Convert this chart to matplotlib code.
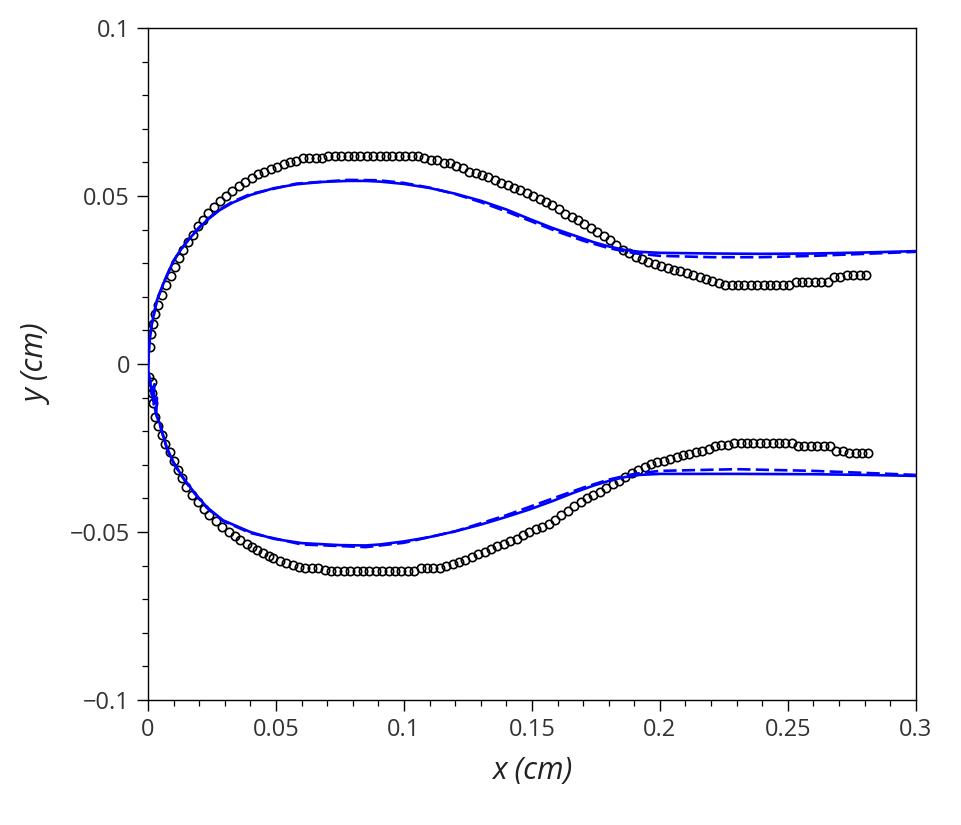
import matplotlib
matplotlib.use("Agg")
import matplotlib.pyplot as plt
from matplotlib.ticker import MultipleLocator, FuncFormatter

exp_up_x = [0.0008, 0.0012, 0.0020, 0.0028, 0.0040, 0.0055, 0.0072, 0.0088, 0.0104, 0.0120,
            0.0138, 0.0155, 0.0175, 0.0195, 0.0215, 0.0235, 0.0258, 0.0282, 0.0305, 0.0330,
            0.0355, 0.0380, 0.0405, 0.0430, 0.0455, 0.0480, 0.0505, 0.0530, 0.0555, 0.0580,
            0.0605, 0.0630, 0.0655, 0.0680, 0.0705, 0.0730, 0.0755, 0.0780, 0.0805, 0.0830,
            0.0855, 0.0880, 0.0905, 0.0930, 0.0955, 0.0980, 0.1005, 0.1030, 0.1055, 0.1080,
            0.1105, 0.1130, 0.1155, 0.1180, 0.1205, 0.1230, 0.1255, 0.1280, 0.1305, 0.1330,
            0.1355, 0.1380, 0.1405, 0.1430, 0.1455, 0.1480, 0.1505, 0.1530, 0.1555, 0.1580,
            0.1605, 0.1630, 0.1655, 0.1680, 0.1705, 0.1730, 0.1755, 0.1780, 0.1805, 0.1830,
            0.1855, 0.1880, 0.1905, 0.1930, 0.1955, 0.1980, 0.2005, 0.2030, 0.2055, 0.2080,
            0.2105, 0.2130, 0.2155, 0.2180, 0.2205, 0.2230, 0.2255, 0.2280, 0.2305, 0.2330,
            0.2355, 0.2380, 0.2405, 0.2430, 0.2455, 0.2480, 0.2505, 0.2530, 0.2555, 0.2580,
            0.2605, 0.2630, 0.2655, 0.2680, 0.2705, 0.2730, 0.2755, 0.2780, 0.2805]
exp_up_y = [0.0050, 0.0090, 0.0120, 0.0150, 0.0176, 0.0205, 0.0235, 0.0262, 0.0290, 0.0315,
            0.0340, 0.0362, 0.0385, 0.0410, 0.0430, 0.0450, 0.0468, 0.0485, 0.0500, 0.0515,
            0.0530, 0.0543, 0.0555, 0.0565, 0.0573, 0.0580, 0.0587, 0.0595, 0.0600, 0.0605,
            0.0613, 0.0613, 0.0613, 0.0613, 0.0620, 0.0620, 0.0620, 0.0620, 0.0620, 0.0620,
            0.0620, 0.0620, 0.0620, 0.0620, 0.0620, 0.0620, 0.0620, 0.0620, 0.0620, 0.0613,
            0.0607, 0.0607, 0.0598, 0.0598, 0.0590, 0.0583, 0.0572, 0.0568, 0.0562, 0.0557,
            0.0548, 0.0540, 0.0532, 0.0525, 0.0518, 0.0510, 0.0500, 0.0492, 0.0483, 0.0472,
            0.0460, 0.0448, 0.0438, 0.0430, 0.0418, 0.0405, 0.0393, 0.0380, 0.0368, 0.0354,
            0.0340, 0.0330, 0.0320, 0.0312, 0.0304, 0.0298, 0.0292, 0.0286, 0.0280, 0.0276,
            0.0272, 0.0266, 0.0260, 0.0254, 0.0248, 0.0242, 0.0235, 0.0235, 0.0235, 0.0235,
            0.0235, 0.0235, 0.0235, 0.0235, 0.0235, 0.0235, 0.0235, 0.0245, 0.0245, 0.0245,
            0.0245, 0.0245, 0.0245, 0.0260, 0.0260, 0.0266, 0.0266, 0.0266, 0.0266]

# experimental contour, lower branch
exp_lo_x = [0.0005, 0.0015, 0.0015, 0.0018, 0.0027, 0.0040, 0.0055, 0.0068, 0.0085, 0.0100,
            0.0117, 0.0133, 0.0150, 0.0172, 0.0196, 0.0218, 0.0240, 0.0265, 0.0290, 0.0315,
            0.0338, 0.0360, 0.0385, 0.0405, 0.0426, 0.0450, 0.0472, 0.0490, 0.0515, 0.0540,
            0.0565, 0.0590, 0.0615, 0.0640, 0.0665, 0.0690, 0.0715, 0.0740, 0.0765, 0.0790,
            0.0815, 0.0840, 0.0865, 0.0890, 0.0915, 0.0940, 0.0965, 0.0990, 0.1015, 0.1040,
            0.1065, 0.1090, 0.1115, 0.1140, 0.1165, 0.1190, 0.1215, 0.1240, 0.1265, 0.1290,
            0.1315, 0.1340, 0.1365, 0.1390, 0.1415, 0.1440, 0.1465, 0.1490, 0.1515, 0.1540,
            0.1565, 0.1590, 0.1615, 0.1640, 0.1665, 0.1690, 0.1715, 0.1740, 0.1765, 0.1790,
            0.1815, 0.1840, 0.1865, 0.1890, 0.1915, 0.1940, 0.1965, 0.1990, 0.2015, 0.2040,
            0.2065, 0.2090, 0.2115, 0.2140, 0.2165, 0.2190, 0.2215, 0.2240, 0.2265, 0.2290,
            0.2315, 0.2340, 0.2365, 0.2390, 0.2415, 0.2440, 0.2465, 0.2490, 0.2515, 0.2540,
            0.2565, 0.2590, 0.2615, 0.2640, 0.2665, 0.2690, 0.2715, 0.2740, 0.2765, 0.2790,
            0.2815]
exp_lo_y = [-0.0040, -0.0054, -0.0085, -0.0116, -0.0158, -0.0185, -0.0212, -0.0238, -0.0262, -0.0290,
            -0.0315, -0.0340, -0.0366, -0.0390, -0.0410, -0.0430, -0.0450, -0.0468, -0.0485, -0.0500,
            -0.0513, -0.0524, -0.0535, -0.0545, -0.0554, -0.0563, -0.0570, -0.0578, -0.0585, -0.0593,
            -0.0598, -0.0604, -0.0608, -0.0608, -0.0608, -0.0612, -0.0616, -0.0616, -0.0616, -0.0616,
            -0.0616, -0.0616, -0.0616, -0.0616, -0.0616, -0.0616, -0.0616, -0.0616, -0.0616, -0.0616,
            -0.0608, -0.0608, -0.0608, -0.0608, -0.0600, -0.0595, -0.0590, -0.0583, -0.0575, -0.0565,
            -0.0558, -0.0550, -0.0543, -0.0536, -0.0528, -0.0520, -0.0510, -0.0500, -0.0492, -0.0484,
            -0.0475, -0.0465, -0.0450, -0.0437, -0.0424, -0.0412, -0.0400, -0.0390, -0.0380, -0.0370,
            -0.0358, -0.0347, -0.0336, -0.0325, -0.0315, -0.0306, -0.0298, -0.0292, -0.0288, -0.0284,
            -0.0278, -0.0272, -0.0267, -0.0262, -0.0258, -0.0254, -0.0244, -0.0241, -0.0241, -0.0235,
            -0.0235, -0.0235, -0.0235, -0.0235, -0.0235, -0.0235, -0.0235, -0.0235, -0.0235, -0.0244,
            -0.0244, -0.0244, -0.0244, -0.0244, -0.0244, -0.0259, -0.0259, -0.0266, -0.0266, -0.0266,
            -0.0266]

# simulation, solid line
sim_up_x = [0.0000, 0.0002, 0.0005, 0.0015, 0.0035, 0.0066, 0.0098, 0.0130, 0.0164, 0.0200,
            0.0230, 0.0280, 0.0330, 0.0400, 0.0490, 0.0580, 0.0680, 0.0780, 0.0850, 0.0906,
            0.1000, 0.1100, 0.1200, 0.1300, 0.1400, 0.1490, 0.1580, 0.1660, 0.1740, 0.1800,
            0.1860, 0.1920, 0.2000, 0.2200, 0.2400, 0.2600, 0.2800, 0.3000]
sim_up_y = [-0.0020, 0.0020, 0.0060, 0.0120, 0.0190, 0.0250, 0.0305, 0.0342, 0.0375, 0.0405,
            0.0428, 0.0458, 0.0480, 0.0503, 0.0523, 0.0535, 0.0542, 0.0545, 0.0545, 0.0543,
            0.0536, 0.0524, 0.0507, 0.0486, 0.0460, 0.0432, 0.0405, 0.0384, 0.0363, 0.0350,
            0.0340, 0.0334, 0.0331, 0.0329, 0.0328, 0.0329, 0.0332, 0.0336]
sim_lo_x = [0.0000, 0.0008, 0.0015, 0.0025, 0.0022, 0.0035, 0.0032, 0.0045, 0.0060, 0.0074,
            0.0098, 0.0130, 0.0164, 0.0200, 0.0230, 0.0293, 0.0400, 0.0490, 0.0600, 0.0750,
            0.0850, 0.0906, 0.1000, 0.1100, 0.1200, 0.1300, 0.1400, 0.1490, 0.1580, 0.1660,
            0.1740, 0.1800, 0.1860, 0.1920, 0.2000, 0.2300, 0.2600, 0.2800, 0.3000]
sim_lo_y = [-0.0020, -0.0050, -0.0090, -0.0060, -0.0120, -0.0100, -0.0150, -0.0175, -0.0215, -0.0250,
            -0.0290, -0.0330, -0.0366, -0.0400, -0.0426, -0.0465, -0.0500, -0.0520, -0.0533, -0.0539,
            -0.0540, -0.0537, -0.0528, -0.0515, -0.0498, -0.0478, -0.0455, -0.0433, -0.0408, -0.0384,
            -0.0362, -0.0348, -0.0337, -0.0330, -0.0327, -0.0327, -0.0328, -0.0330, -0.0333]

# simulation, dashed line
sim2_up_x = [0.0000, 0.0002, 0.0005, 0.0015, 0.0035, 0.0066, 0.0098, 0.0130, 0.0164, 0.0200,
             0.0230, 0.0280, 0.0330, 0.0400, 0.0580, 0.0780, 0.0900, 0.1000, 0.1100, 0.1200,
             0.1300, 0.1400, 0.1500, 0.1600, 0.1700, 0.1800, 0.1900, 0.2000, 0.2200, 0.2400,
             0.2600, 0.2800, 0.3000]
sim2_up_y = [-0.0020, 0.0020, 0.0060, 0.0120, 0.0190, 0.0250, 0.0305, 0.0342, 0.0376, 0.0407,
             0.0430, 0.0460, 0.0483, 0.0506, 0.0537, 0.0548, 0.0547, 0.0539, 0.0525, 0.0506,
             0.0482, 0.0454, 0.0424, 0.0394, 0.0367, 0.0345, 0.0330, 0.0322, 0.0318, 0.0318,
             0.0322, 0.0328, 0.0334]
sim2_lo_x = [0.0000, 0.0008, 0.0015, 0.0032, 0.0045, 0.0060, 0.0074, 0.0098, 0.0130, 0.0164,
             0.0200, 0.0230, 0.0293, 0.0400, 0.0600, 0.0850, 0.1000, 0.1200, 0.1400, 0.1600,
             0.1700, 0.1800, 0.1900, 0.2000, 0.2300, 0.2600, 0.2800, 0.3000]
sim2_lo_y = [-0.0020, -0.0050, -0.0090, -0.0150, -0.0176, -0.0216, -0.0252, -0.0292, -0.0332, -0.0368,
             -0.0402, -0.0428, -0.0467, -0.0503, -0.0537, -0.0545, -0.0532, -0.0498, -0.0450, -0.0395,
             -0.0368, -0.0344, -0.0327, -0.0318, -0.0313, -0.0318, -0.0324, -0.0330]

plt.rcParams['font.family'] = ['Open Sans', 'DejaVu Sans']

fig = plt.figure(figsize=(9.61, 8.25), dpi=100)
ax = fig.add_axes([0.154, 0.1515, 0.799, 0.8145])

blue = '#0000ff'
ax.plot(sim_up_x, sim_up_y, color=blue, lw=1.9, zorder=3)
ax.plot(sim_lo_x, sim_lo_y, color=blue, lw=1.9, zorder=3)
ax.plot(sim2_up_x, sim2_up_y, color=blue, lw=1.9, dashes=(5, 2), zorder=3)
ax.plot(sim2_lo_x, sim2_lo_y, color=blue, lw=1.9, dashes=(5, 2), zorder=3)

for xs, ys in [(exp_up_x, exp_up_y), (exp_lo_x, exp_lo_y)]:
    ax.plot(xs, ys, ls='none', marker='o', ms=6, mfc='none', mec='black', mew=1.2, zorder=2)

ax.set_xlim(0, 0.3)
ax.set_ylim(-0.1, 0.1)

def fmt(v, pos):
    s = '%g' % round(v, 4)
    if s == '-0':
        s = '0'
    return s.replace('-', '\u2212')

ax.xaxis.set_major_locator(MultipleLocator(0.05))
ax.xaxis.set_minor_locator(MultipleLocator(0.01))
ax.yaxis.set_major_locator(MultipleLocator(0.05))
ax.yaxis.set_minor_locator(MultipleLocator(0.01))
ax.xaxis.set_major_formatter(FuncFormatter(fmt))
ax.yaxis.set_major_formatter(FuncFormatter(fmt))
ax.tick_params(which='major', direction='out', length=8, width=1, labelsize=17,
               labelcolor='#333333', pad=5)
ax.tick_params(which='minor', direction='out', length=4.5, width=0.9)
ax.tick_params(top=False, right=False, which='both')
for s in ax.spines.values():
    s.set_linewidth(1)

ax.set_xlabel('x (cm)', fontsize=22, style='italic', color='#222222', labelpad=10)
ax.set_ylabel('y (cm)', fontsize=22, style='italic', color='#222222', labelpad=12)

fig.savefig('out.png', dpi=100)
